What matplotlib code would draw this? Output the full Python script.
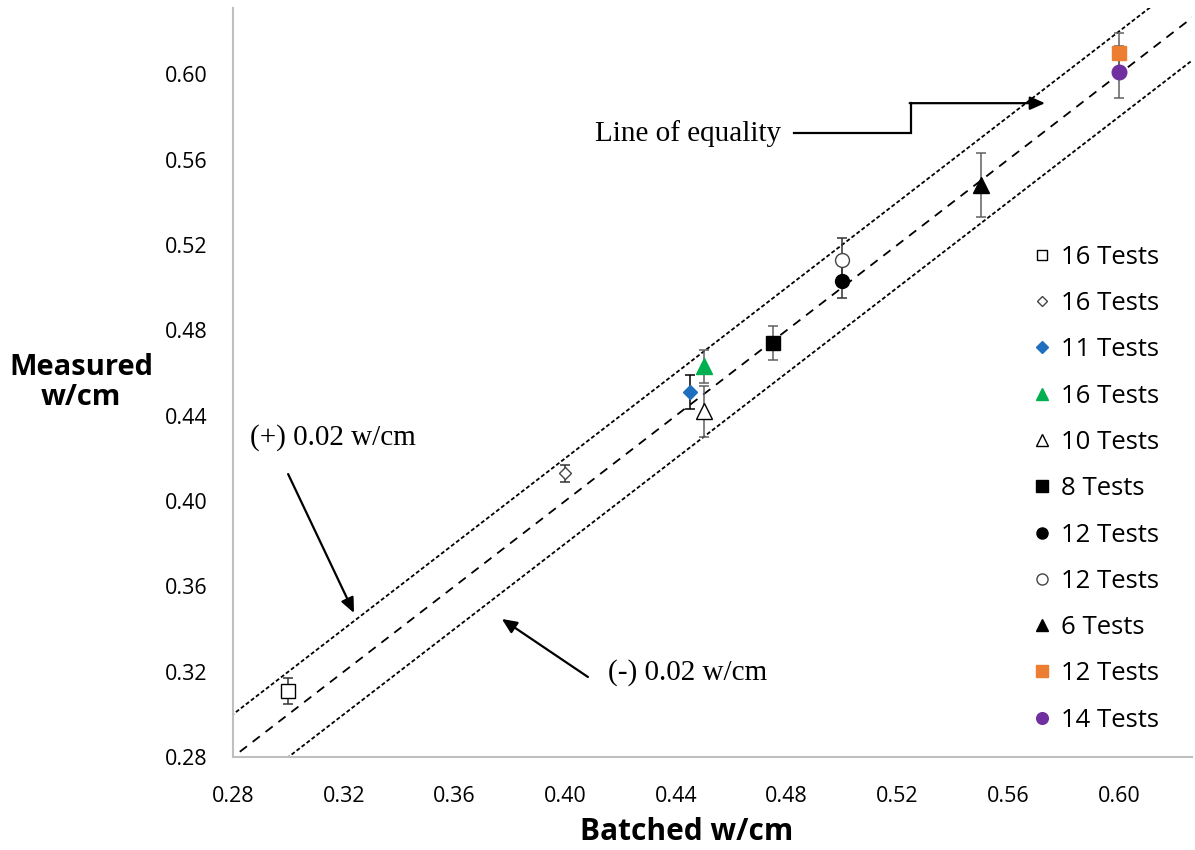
import matplotlib
matplotlib.use("Agg")
import matplotlib.pyplot as plt
import numpy as np

# ---- data ----
labels = ["16 Tests", "16 Tests", "11 Tests", "16 Tests", "10 Tests", "8 Tests",
          "12 Tests", "12 Tests", "6 Tests", "12 Tests", "14 Tests"]
batched = [0.300, 0.400, 0.445, 0.450, 0.450, 0.475, 0.500, 0.500, 0.550, 0.600, 0.600]
measured = [0.311, 0.413, 0.451, 0.463, 0.442, 0.474, 0.503, 0.513, 0.548, 0.610, 0.601]
errors = [0.006, 0.004, 0.008, 0.0075, 0.012, 0.008, 0.008, 0.010, 0.015, 0.0095, 0.012]
markers = ["s", "D", "D", "^", "^", "s", "o", "o", "^", "s", "o"]
face_colors = ["white", "white", "#1f6fc0", "#00b050", "white", "black", "black",
               "white", "black", "#ed7d31", "#7030a0"]
edge_colors = ["black", "#444444", "#1f6fc0", "#00b050", "black", "black", "black",
               "#444444", "black", "#ed7d31", "#7030a0"]
err_colors = ["#333333", "#333333", "black", "#606060", "#606060", "#606060", "#333333",
              "#333333", "#606060", "#606060", "#606060"]
marker_sizes = [9.5, 6, 7.5, 11, 11, 10, 10, 10, 11, 10, 10.5]
band = 0.02

xticks = [0.28, 0.32, 0.36, 0.40, 0.44, 0.48, 0.52, 0.56, 0.60]
yticks = [0.28, 0.32, 0.36, 0.40, 0.44, 0.48, 0.52, 0.56, 0.60]

fig = plt.figure(figsize=(11.95, 8.5), dpi=100)
ax = fig.add_axes([0.195, 0.1094, 0.8025, 0.8812])
xlim = (0.28, 0.6264)
ylim = (0.28, 0.631)
ax.set_xlim(*xlim)
ax.set_ylim(*ylim)

xx = np.array([0.2, 0.7])
ax.plot(xx, xx, color="black", lw=1.3, dashes=(5, 4), zorder=1)
ax.plot(xx, xx + band, color="black", lw=1.3, dashes=(2.2, 1.3), zorder=1)
ax.plot(xx, xx - band, color="black", lw=1.3, dashes=(2.2, 1.3), zorder=1)

handles = []
for i in range(len(batched)):
    ax.errorbar(batched[i], measured[i], yerr=errors[i], fmt="none",
                ecolor=err_colors[i], elinewidth=1.1, capsize=3.5, capthick=1.1, zorder=2)
    h, = ax.plot(batched[i], measured[i], linestyle="none", marker=markers[i],
                 markersize=marker_sizes[i], markerfacecolor=face_colors[i],
                 markeredgecolor=edge_colors[i], markeredgewidth=1.0, zorder=3)
    handles.append(h)

ax.set_xticks(xticks)
ax.set_yticks(yticks)
ax.set_xticklabels([f"{t:.2f}" for t in xticks])
ax.set_yticklabels([f"{t:.2f}" for t in yticks])
ax.tick_params(axis="both", length=0, labelsize=15.5, colors="black")
ax.tick_params(axis="x", pad=21)
ax.tick_params(axis="y", pad=18.5)
for t in ax.get_xticklabels() + ax.get_yticklabels():
    t.set_fontfamily("Open Sans")

for s in ["top", "right"]:
    ax.spines[s].set_visible(False)
for s in ["left", "bottom"]:
    ax.spines[s].set_color("#bfbfbf")
    ax.spines[s].set_linewidth(1.5)

fig.text(0.575, 0.0215, "Batched w/cm", ha="center", va="center", fontsize=21.5,
         fontweight="bold", fontfamily="Open Sans")
fig.text(0.068, 0.550, "Measured\nw/cm", ha="center", va="center", fontsize=21,
         fontweight="bold", fontfamily="Open Sans", linespacing=1.05)

leg = ax.legend(handles, labels, loc="upper left", bbox_to_anchor=(0.846, 0.7395),
                bbox_transform=fig.transFigure, frameon=False,
                markerscale=0.8, handlelength=0.6, handletextpad=0.45, labelspacing=0.83,
                prop={"family": "Open Sans", "size": 18.5})

serif = "Liberation Serif"
arrow_kw = dict(arrowstyle="-|>,head_length=0.9,head_width=0.4",
                color="black", lw=1.6, shrinkA=0, shrinkB=0)
# Line of equality with elbow arrow
ax.text(0.4108, 0.5724, "Line of equality", fontsize=21, fontfamily=serif,
        ha="left", va="center")
ax.plot([0.4825, 0.5249, 0.5249], [0.5724, 0.5724, 0.5864], color="black", lw=1.6,
        solid_joinstyle="miter")
ax.annotate("", xy=(0.5733, 0.5864), xytext=(0.5244, 0.5864), arrowprops=arrow_kw)
# (+) label
ax.text(0.2861, 0.4299, "(+) 0.02 w/cm", fontsize=21, fontfamily=serif, ha="left", va="center")
ax.annotate("", xy=(0.3237, 0.3475), xytext=(0.2999, 0.4126), arrowprops=arrow_kw)
# (-) label
ax.text(0.4155, 0.3198, "(-) 0.02 w/cm", fontsize=21, fontfamily=serif, ha="left", va="center")
ax.annotate("", xy=(0.3771, 0.3447), xytext=(0.4082, 0.3175), arrowprops=arrow_kw)

fig.savefig("out.png", dpi=100)
